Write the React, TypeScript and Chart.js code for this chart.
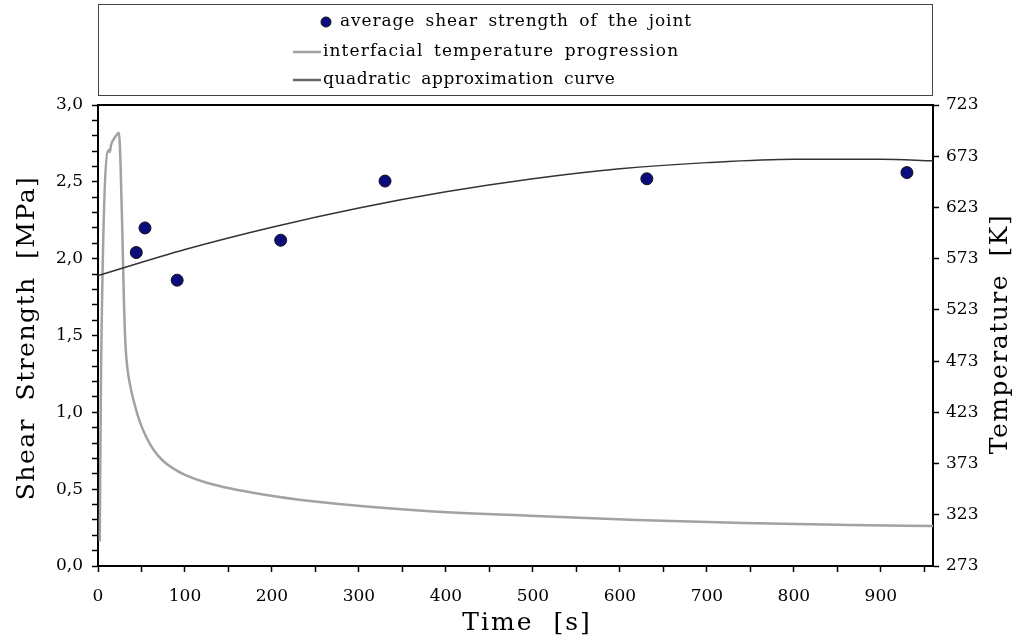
import React, { useEffect, useRef } from 'react';
import { Chart, registerables } from 'chart.js';

Chart.register(...registerables);

// Average shear strength of the joint [MPa] at time [s]
const shearTimes = [44, 54, 91, 210, 330, 631, 930];
const shearValues = [2.04, 2.2, 1.86, 2.12, 2.505, 2.52, 2.56];

// Quadratic approximation curve
const fitTimes = [0, 100, 200, 300, 400, 500, 600, 700, 800, 900, 960];
const fitValues = [1.89, 2.06, 2.205, 2.33, 2.435, 2.52, 2.585, 2.625, 2.647, 2.647, 2.637];

// Interfacial temperature progression [K]
const tempTimes = [2, 3.5, 12.5, 13.5, 15, 20, 24, 26, 28, 30, 31, 32, 33.5, 35.5, 38, 42, 48, 56, 65, 75, 85, 100, 126, 188, 249, 373, 496, 619, 742, 865, 961];
const tempValues = [297, 462, 679, 677, 684, 692, 696, 663, 598, 525, 500, 483, 468, 456, 445, 431, 414, 398, 385, 375.5, 369, 362, 354, 343, 336, 327, 322, 318, 315, 313, 312];

const xTickStep = 50;
const leftTickStep = 0.1;
const rightTicks = [273, 323, 373, 423, 473, 523, 573, 623, 673, 723];

const labels = {
  points: 'average shear strength of the joint',
  temp: 'interfacial temperature progression',
  fit: 'quadratic approximation curve',
  x: 'Time [s]',
  yLeft: 'Shear Strength [MPa]',
  yRight: 'Temperature [K]',
};

const SERIF = '"DejaVu Serif", "Liberation Serif", serif';

function spacedText(ctx: any, text: string, x: number, y: number, letter: number, word: number) {
  ctx.letterSpacing = `${letter}px`;
  ctx.wordSpacing = `${word}px`;
  ctx.fillText(text, x, y);
  ctx.letterSpacing = '0px';
  ctx.wordSpacing = '0px';
}

const framePlugin = {
  id: 'frameAndLegend',
  afterDraw(chart: any) {
    const { ctx, chartArea } = chart;
    ctx.save();
    // top border of plot frame
    ctx.strokeStyle = '#000';
    ctx.lineWidth = 2;
    ctx.beginPath();
    ctx.moveTo(chartArea.left - 1, chartArea.top);
    ctx.lineTo(chartArea.right + 1, chartArea.top);
    ctx.stroke();

    // legend box
    ctx.strokeStyle = '#444';
    ctx.lineWidth = 1;
    ctx.strokeRect(98.5, 4.5, 834, 91);

    const ds = chart.data.datasets;
    ctx.font = `17px ${SERIF}`;
    ctx.fillStyle = '#000';
    ctx.textBaseline = 'middle';
    ctx.textAlign = 'left';
    // item 1: point
    ctx.beginPath();
    ctx.arc(326, 22, 5, 0, Math.PI * 2);
    ctx.fillStyle = ds[0].backgroundColor;
    ctx.fill();
    ctx.strokeStyle = ds[0].borderColor;
    ctx.lineWidth = 1;
    ctx.stroke();
    ctx.fillStyle = '#000';
    spacedText(ctx, ds[0].label, 340, 22, 0.9, 4);
    // item 2: temperature line
    ctx.strokeStyle = ds[2].borderColor;
    ctx.lineWidth = 2.5;
    ctx.beginPath();
    ctx.moveTo(293, 52);
    ctx.lineTo(321, 52);
    ctx.stroke();
    spacedText(ctx, ds[2].label, 323, 52, 1.1, 4);
    // item 3: fit line
    ctx.strokeStyle = '#666';
    ctx.lineWidth = 2.5;
    ctx.beginPath();
    ctx.moveTo(293, 80);
    ctx.lineTo(321, 80);
    ctx.stroke();
    spacedText(ctx, ds[1].label, 323, 80, 0.6, 4);

    ctx.font = `25px ${SERIF}`;
    ctx.textAlign = 'center';
    ctx.textBaseline = 'middle';
    ctx.fillStyle = '#000';

    // x axis title
    spacedText(ctx, labels.x, 527, 623, 2, 10);

    // left axis title
    ctx.save();
    ctx.translate(27, 338);
    ctx.rotate(-Math.PI / 2);
    spacedText(ctx, labels.yLeft, 0, 0, 1.5, 8);
    ctx.restore();

    // right axis title (reads bottom to top)
    ctx.save();
    ctx.translate(1000, 334);
    ctx.rotate(-Math.PI / 2);
    spacedText(ctx, labels.yRight, 0, 0, 1.5, 8);
    ctx.restore();

    ctx.restore();
  },
};

export default function App() {
  const ref = useRef<HTMLCanvasElement | null>(null);

  useEffect(() => {
    document.body.style.margin = '0';
    if (!ref.current) return;
    const tickFont = { family: SERIF, size: 17 };
    const chart = new Chart(ref.current, {
      type: 'scatter',
      data: {
        datasets: [
          {
            label: labels.points,
            data: shearTimes.map((t, i) => ({ x: t, y: shearValues[i] })),
            backgroundColor: '#0c0c7c',
            borderColor: '#111',
            borderWidth: 1,
            pointRadius: 6,
            showLine: false,
            yAxisID: 'y',
          },
          {
            label: labels.fit,
            data: fitTimes.map((t, i) => ({ x: t, y: fitValues[i] })),
            borderColor: '#333',
            borderWidth: 1.5,
            pointRadius: 0,
            showLine: true,
            cubicInterpolationMode: 'monotone',
            yAxisID: 'y',
          },
          {
            label: labels.temp,
            data: tempTimes.map((t, i) => ({ x: t, y: tempValues[i] })),
            borderColor: '#a2a2a2',
            borderWidth: 2.5,
            pointRadius: 0,
            showLine: true,
            cubicInterpolationMode: 'monotone',
            yAxisID: 'y1',
          },
        ],
      },
      options: {
        animation: false,
        responsive: false,
        devicePixelRatio: 1,
        layout: { padding: { top: 105, left: 0, right: 0, bottom: 0 } },
        plugins: { legend: { display: false }, tooltip: { enabled: false } },
        scales: {
          x: {
            type: 'linear',
            position: 'bottom',
            min: 0,
            max: 960,
            afterFit: (s: any) => { s.height = 74; },
            ticks: {
              stepSize: xTickStep,
              includeBounds: false,
              autoSkip: false,
              maxRotation: 0,
              padding: 14,
              color: '#000',
              font: tickFont,
              callback: (v: any) => (Math.round(v) % 100 === 0 ? String(Math.round(v)) : ''),
            },
            grid: { drawOnChartArea: false, drawTicks: true, tickLength: 6, tickColor: '#000', tickWidth: 1.5 },
            border: { color: '#000', width: 2 },
          },
          y: {
            type: 'linear',
            position: 'left',
            min: 0,
            max: 3,
            afterFit: (s: any) => { s.width = 98; },
            ticks: {
              stepSize: leftTickStep,
              autoSkip: false,
              padding: 9,
              color: '#000',
              font: tickFont,
              callback: (v: any) => {
                const k = v * 2;
                return Math.abs(k - Math.round(k)) < 1e-6 ? (Math.round(k) / 2).toFixed(1).replace('.', ',') : '';
              },
            },
            grid: { drawOnChartArea: false, drawTicks: true, tickLength: 6, tickColor: '#000', tickWidth: 1.5 },
            border: { color: '#000', width: 2 },
          },
          y1: {
            type: 'linear',
            position: 'right',
            min: rightTicks[0],
            max: rightTicks[rightTicks.length - 1],
            afterFit: (s: any) => { s.width = 80; },
            ticks: {
              stepSize: 50,
              autoSkip: false,
              padding: 7,
              color: '#000',
              font: tickFont,
            },
            grid: { drawOnChartArea: false, drawTicks: true, tickLength: 6, tickColor: '#000', tickWidth: 1.5 },
            border: { color: '#000', width: 2 },
          },
        },
      },
      plugins: [framePlugin],
    });
    return () => chart.destroy();
  }, []);

  return (
    <div style={{ width: 1013, height: 640 }}>
      <canvas ref={ref} width={1013} height={640} />
    </div>
  );
}
